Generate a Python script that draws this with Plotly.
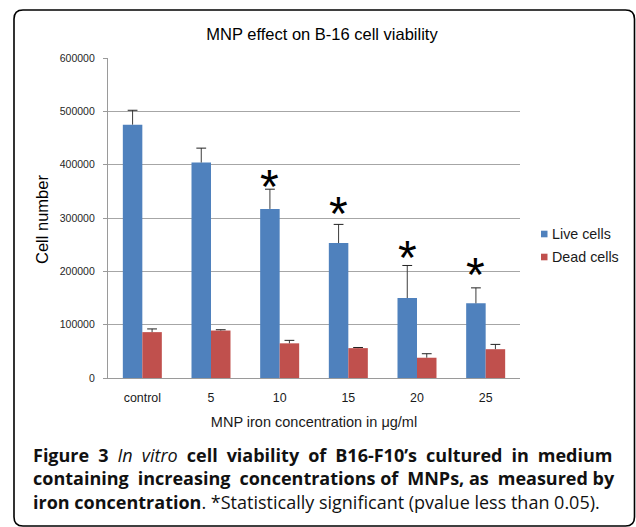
import plotly.graph_objects as go

# ---------------- data ----------------
categories = ["control", "5", "10", "15", "20", "25"]
live_cells = [475000, 404000, 317000, 253000, 150000, 140000]
live_err = [27000, 27000, 37000, 35000, 61000, 29000]
dead_cells = [86000, 89000, 65000, 56000, 38000, 54000]
dead_err = [6000, 1500, 5600, 1200, 7500, 9000]
# asterisk (significance) heights, None = not significant
sig_y = [None, None, 371000, 319000, 237000, 206000]
series_names = ["Live cells", "Dead cells"]
series_colors = ["#4F81BD", "#C0504D"]
y_ticks = [0, 100000, 200000, 300000, 400000, 500000, 600000]

# ---------------- layout constants ----------------
W, H = 636, 527
L, R, T, B = 108, 520, 58, 378
BAR_W = 0.284
CHART_FONT = "Liberation Sans, Arial, sans-serif"
CAP_FONT = "Open Sans, sans-serif"


def px_x(p):
    return (p - L) / (R - L)


def px_y(p):
    return (B - p) / (B - T)


idx = list(range(len(categories)))
live_x = [i - BAR_W / 2 for i in idx]
dead_x = [i + BAR_W / 2 for i in idx]

fig = go.Figure()

fig.add_trace(go.Bar(x=live_x, y=live_cells, width=BAR_W, name=series_names[0],
                     marker=dict(color=series_colors[0], line=dict(width=0)),
                     showlegend=False))
fig.add_trace(go.Bar(x=dead_x, y=dead_cells, width=BAR_W, name=series_names[1],
                     marker=dict(color=series_colors[1], line=dict(width=0)),
                     showlegend=False))


def err_traces(xs, vals, errs):
    lx, ly = [], []
    for x, v, e in zip(xs, vals, errs):
        lx += [x, x, None]
        ly += [v, v + e, None]
    line = go.Scatter(x=lx, y=ly, mode="lines", line=dict(color="#3c3c3c", width=1),
                      showlegend=False, hoverinfo="skip")
    caps = go.Scatter(x=xs, y=[v + e for v, e in zip(vals, errs)], mode="markers",
                      marker=dict(symbol="line-ew", size=7,
                                  line=dict(color="#222222", width=1)),
                      showlegend=False, hoverinfo="skip")
    return [line, caps]


for t in err_traces(live_x, live_cells, live_err) + err_traces(dead_x, dead_cells, dead_err):
    fig.add_trace(t)

annotations = []
for x, s in zip(live_x, sig_y):
    if s is not None:
        annotations.append(dict(x=x, y=s, xref="x", yref="y", text="*", showarrow=False,
                                font=dict(family=CHART_FONT, size=48, color="black"),
                                xanchor="center", yanchor="middle", yshift=-6))

# y axis title
annotations.append(dict(x=px_x(42), y=px_y(220), xref="paper", yref="paper",
                        text="Cell number", textangle=-90, showarrow=False,
                        font=dict(family=CHART_FONT, size=16.5, color="black"),
                        xanchor="center", yanchor="middle"))

# legend (manual)
shapes = []
for k, (name, col) in enumerate(zip(series_names, series_colors)):
    yc = 234 + 23 * k
    shapes.append(dict(type="rect", xref="paper", yref="paper",
                       x0=px_x(541), x1=px_x(547.5), y0=px_y(yc + 3.3), y1=px_y(yc - 3.3),
                       fillcolor=col, line=dict(width=0)))
    annotations.append(dict(x=px_x(549.5), y=px_y(yc), xref="paper", yref="paper",
                            text=name, showarrow=False, xanchor="left", yanchor="middle",
                            font=dict(family=CHART_FONT, size=14.3, color="#1a1a1a")))

# caption (justified look via wider spaces)
EN = "\u2002"
caption_lines = [
    EN.join(["<b>Figure", "3</b>", "<i>In", "vitro</i>", "<b>cell", "viability", "of",
             "B16-F10’s", "cultured", "in", "medium</b>"]),
    "<b>containing" + EN + "increasing" + EN + "concentrations of" + EN + "MNPs, as" + EN
    + "measured by</b>",
    "<b>iron concentration</b>. *Statistically significant (pvalue less than 0.05).",
]
annotations.append(dict(x=px_x(31), y=px_y(478.5), xref="paper", yref="paper",
                        text="<br>".join(caption_lines), showarrow=False,
                        xanchor="left", yanchor="middle", align="left",
                        font=dict(family=CAP_FONT, size=18, color="#111111")))

# rounded border
x0, y0, x1, y1, r = 14, 10, 634.5, 526, 9


def P(px, py):
    return f"{px_x(px):.5f},{px_y(py):.5f}"


path = (f"M{P(x0 + r, y0)} L{P(x1 - r, y0)} Q{P(x1, y0)} {P(x1, y0 + r)} "
        f"L{P(x1, y1 - r)} Q{P(x1, y1)} {P(x1 - r, y1)} "
        f"L{P(x0 + r, y1)} Q{P(x0, y1)} {P(x0, y1 - r)} "
        f"L{P(x0, y0 + r)} Q{P(x0, y0)} {P(x0 + r, y0)} Z")
shapes.append(dict(type="path", xref="paper", yref="paper", path=path,
                   line=dict(color="black", width=1.6), fillcolor="rgba(0,0,0,0)"))

fig.update_layout(
    width=W, height=H,
    margin=dict(l=L, r=W - R, t=T, b=H - B, autoexpand=False),
    paper_bgcolor="white", plot_bgcolor="white",
    barmode="overlay",
    showlegend=False,
    title=dict(text="MNP effect on B-16 cell viability", x=322 / W, xref="container",
               xanchor="center", y=1 - 34 / H, yref="container", yanchor="middle",
               font=dict(family=CHART_FONT, size=16.5, color="black")),
    xaxis=dict(range=[-0.5, 5.5], tickmode="array", tickvals=idx, ticktext=categories,
               showgrid=False, zeroline=False, showline=True, linecolor="#9a9a9a",
               linewidth=1.3, ticks="", ticklabelstandoff=8,
               tickfont=dict(family=CHART_FONT, size=12.4, color="#1a1a1a"),
               title=dict(text="MNP iron concentration in μg/ml", standoff=12,
                          font=dict(family=CHART_FONT, size=14.5, color="#1a1a1a"))),
    yaxis=dict(range=[0, 600000], tickmode="array", tickvals=y_ticks,
               tickformat="d", showgrid=True, gridcolor="#a6a6a6", gridwidth=1.3,
               zeroline=False, showline=True, linecolor="#9a9a9a", linewidth=1.3,
               ticks="outside", ticklen=4, tickcolor="#9a9a9a", tickwidth=1.3,
               ticklabelstandoff=6,
               tickfont=dict(family=CHART_FONT, size=10.5, color="#262626")),
    annotations=annotations,
    shapes=shapes,
)

fig.write_html("out.html", config={"displayModeBar": False},
               post_script="document.body.style.margin='0';document.body.style.overflow='hidden';")
